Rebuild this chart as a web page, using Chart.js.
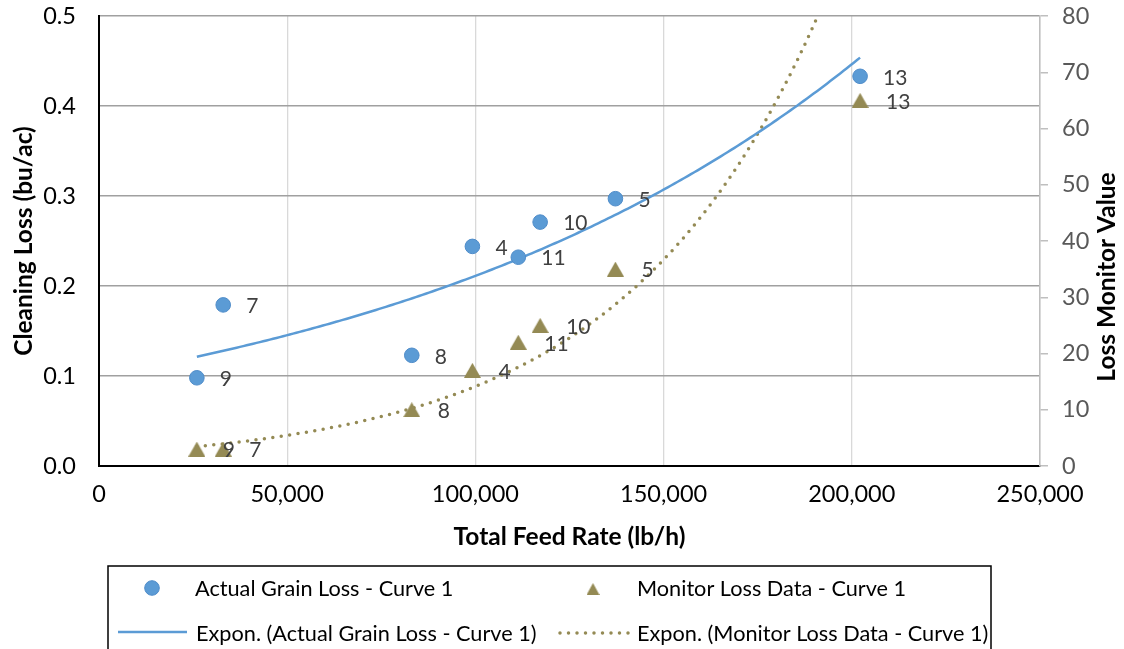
<!DOCTYPE html>
<html>
<head>
<meta charset="utf-8">
<script src="https://cdn.jsdelivr.net/npm/chart.js@4/dist/chart.umd.min.js"></script>
<style>
  html, body { margin: 0; padding: 0; background: #fff; }
  #wrap { position: relative; width: 1124px; height: 649px; }
</style>
</head>
<body>
<div id="wrap"><canvas id="c" width="1124" height="649"></canvas></div>
<script>
// Total feed rate (lb/h) for each run
const feedRate = [26000, 33000, 83100, 99200, 111400, 117200, 137200, 202200];
// Measured cleaning loss (bu/ac)
const actualLoss = [0.098, 0.179, 0.123, 0.244, 0.232, 0.271, 0.297, 0.433];
// Loss monitor reading
const monitorValue = [3, 3, 10, 17, 22, 25, 35, 65];
// Setting number shown next to each point
const settingLabels = ['9', '7', '8', '4', '11', '10', '5', '13'];

// Axis ticks
const xTicks = [0, 50000, 100000, 150000, 200000, 250000];
const yTicks = [0, 0.1, 0.2, 0.3, 0.4, 0.5];
const y2Ticks = [0, 10, 20, 30, 40, 50, 60, 70, 80];

const seriesNames = [
  'Actual Grain Loss - Curve 1',
  'Monitor Loss Data - Curve 1',
  'Expon. (Actual Grain Loss - Curve 1)',
  'Expon. (Monitor Loss Data - Curve 1)'
];

const BLUE = '#5B9BD5';
const BLUE_EDGE = '#4F8CC9';
const OLIVE = '#948A54';
const FONT = 'Lato, "Open Sans", sans-serif';
const TICK_SIZE = 23.5;
const TITLE_SIZE = 24.5;

// Exponential least-squares trendline y = a*e^(b*x), sampled across the data range
function expTrend(xs, ys) {
  const n = xs.length;
  const ly = ys.map(v => Math.log(v));
  const mx = xs.reduce((s, v) => s + v, 0) / n;
  const my = ly.reduce((s, v) => s + v, 0) / n;
  let sxy = 0, sxx = 0;
  for (let i = 0; i < n; i++) { sxy += (xs[i] - mx) * (ly[i] - my); sxx += (xs[i] - mx) ** 2; }
  const b = sxy / sxx, lnA = my - b * mx;
  const x0 = Math.min(...xs), x1 = Math.max(...xs);
  const pts = [];
  for (let k = 0; k <= 200; k++) {
    const x = x0 + (x1 - x0) * k / 200;
    pts.push({ x, y: Math.exp(lnA + b * x) });
  }
  return pts;
}

// Triangle marker centred on its bounding box
function triangleMarker(w, h, color) {
  const cv = document.createElement('canvas');
  cv.width = w; cv.height = h;
  const g = cv.getContext('2d');
  g.fillStyle = color;
  g.beginPath();
  g.moveTo(w / 2, 0);
  g.lineTo(w, h);
  g.lineTo(0, h);
  g.closePath();
  g.fill();
  return cv;
}
const triBig = triangleMarker(17, 15, OLIVE);
const triSmall = triangleMarker(13, 12, OLIVE);

const actualPts = feedRate.map((x, i) => ({ x, y: actualLoss[i] }));
const monitorPts = feedRate.map((x, i) => ({ x, y: monitorValue[i] }));

// Setting numbers to the right of each marker
const pointLabels = {
  id: 'pointLabels',
  afterDatasetsDraw(chart) {
    const ctx = chart.ctx;
    ctx.save();
    ctx.font = '21px ' + FONT;
    ctx.fillStyle = '#404040';
    ctx.textBaseline = 'middle';
    ctx.textAlign = 'left';
    [[0, 23], [1, 26]].forEach(([di, off]) => {
      chart.getDatasetMeta(di).data.forEach((el, i) => {
        ctx.fillText(settingLabels[i], el.x + off, el.y + 1.5);
      });
    });
    ctx.restore();
  }
};

// Right axis title and the boxed legend below the plot
const extras = {
  id: 'extras',
  afterDraw(chart) {
    const ctx = chart.ctx;
    ctx.save();
    ctx.font = 'bold ' + TITLE_SIZE + 'px ' + FONT;
    ctx.fillStyle = '#000';
    ctx.textAlign = 'center';
    ctx.textBaseline = 'middle';
    ctx.translate(1107, 277);
    ctx.rotate(-Math.PI / 2);
    ctx.fillText('Loss Monitor Value', 0, 0);
    ctx.restore();

    ctx.save();
    ctx.strokeStyle = '#000';
    ctx.lineWidth = 1.5;
    ctx.strokeRect(108, 566, 883, 100);
    ctx.font = '21.7px ' + FONT;
    ctx.fillStyle = '#000';
    ctx.textBaseline = 'middle';
    ctx.textAlign = 'left';
    // row 1: markers
    ctx.beginPath();
    ctx.arc(152, 588, 7.3, 0, Math.PI * 2);
    ctx.fillStyle = BLUE; ctx.fill();
    ctx.strokeStyle = BLUE_EDGE; ctx.lineWidth = 1; ctx.stroke();
    ctx.drawImage(triSmall, 593 - 6.5, 589 - 6);
    ctx.fillStyle = '#000';
    ctx.fillText(seriesNames[0], 195, 589);
    ctx.fillText(seriesNames[1], 637, 589);
    // row 2: trendlines
    ctx.beginPath();
    ctx.moveTo(118, 632); ctx.lineTo(187, 632);
    ctx.strokeStyle = BLUE; ctx.lineWidth = 2.5; ctx.stroke();
    ctx.beginPath();
    ctx.setLineDash([0, 8.5]);
    ctx.lineCap = 'round';
    ctx.moveTo(560, 633); ctx.lineTo(630, 633);
    ctx.strokeStyle = OLIVE; ctx.lineWidth = 3.5; ctx.stroke();
    ctx.setLineDash([]);
    ctx.fillText(seriesNames[2], 196, 634);
    ctx.fillText(seriesNames[3], 637, 634);
    ctx.restore();
  }
};

// Keep the plot box fixed: no extra room for overhanging tick labels
function noOverhang(s) {
  s.paddingTop = 0; s.paddingBottom = 0; s.paddingLeft = 0; s.paddingRight = 0;
}

new Chart(document.getElementById('c'), {
  type: 'scatter',
  data: {
    datasets: [
      {
        label: seriesNames[0], data: actualPts, yAxisID: 'y',
        pointStyle: 'circle', pointRadius: 7.3, pointHoverRadius: 7.3,
        backgroundColor: BLUE, borderColor: BLUE_EDGE, borderWidth: 1
      },
      {
        label: seriesNames[1], data: monitorPts, yAxisID: 'y2',
        pointStyle: triBig, pointRadius: 8,
        backgroundColor: OLIVE, borderColor: OLIVE
      },
      {
        label: seriesNames[2], data: expTrend(feedRate, actualLoss), yAxisID: 'y',
        showLine: true, pointRadius: 0, borderColor: BLUE, borderWidth: 2.5, tension: 0
      },
      {
        label: seriesNames[3], data: expTrend(feedRate, monitorValue), yAxisID: 'y2',
        showLine: true, pointRadius: 0, borderColor: OLIVE, borderWidth: 3.5,
        borderDash: [0, 8.5], borderCapStyle: 'round', tension: 0
      }
    ]
  },
  options: {
    responsive: false,
    animation: false,
    events: [],
    layout: { padding: { top: 16, bottom: 93, left: 0, right: 0 } },
    plugins: { legend: { display: false }, tooltip: { enabled: false } },
    scales: {
      x: {
        type: 'linear', min: 0, max: 250000,
        afterBuildTicks: s => { s.ticks = xTicks.map(v => ({ value: v })); },
        afterFit: s => { s.height = 90; noOverhang(s); },
        ticks: {
          color: '#000', font: { family: FONT, size: TICK_SIZE }, padding: 14,
          callback: v => v.toLocaleString('en-US')
        },
        grid: { color: '#D9D9D9', lineWidth: 1.3, drawTicks: false },
        border: { color: '#000', width: 2 },
        title: {
          display: true, text: 'Total Feed Rate (lb/h)', color: '#000',
          font: { family: FONT, size: TITLE_SIZE, weight: 'bold' }, padding: { top: 4 }
        }
      },
      y: {
        position: 'left', min: 0, max: 0.5,
        afterBuildTicks: s => { s.ticks = yTicks.map(v => ({ value: v })); },
        afterFit: s => { s.width = 99; noOverhang(s); },
        ticks: {
          color: '#000', font: { family: FONT, size: TICK_SIZE }, padding: 23,
          callback: v => v.toFixed(1)
        },
        grid: { color: '#A0A0A0', lineWidth: 1.6, drawTicks: false },
        border: { color: '#000', width: 2 },
        title: {
          display: true, text: 'Cleaning Loss (bu/ac)', color: '#000',
          font: { family: FONT, size: TITLE_SIZE, weight: 'bold' }, padding: { top: 9, bottom: 0 }
        }
      },
      y2: {
        position: 'right', min: 0, max: 80,
        afterBuildTicks: s => { s.ticks = y2Ticks.map(v => ({ value: v })); },
        afterFit: s => { s.width = 84; noOverhang(s); },
        ticks: {
          color: '#595959', font: { family: FONT, size: TICK_SIZE }, padding: 14
        },
        grid: { drawOnChartArea: false, color: '#BFBFBF', tickLength: 8, lineWidth: 1.5 },
        border: { color: '#BFBFBF', width: 1.5 }
      }
    }
  },
  plugins: [pointLabels, extras]
});
</script>
</body>
</html>
